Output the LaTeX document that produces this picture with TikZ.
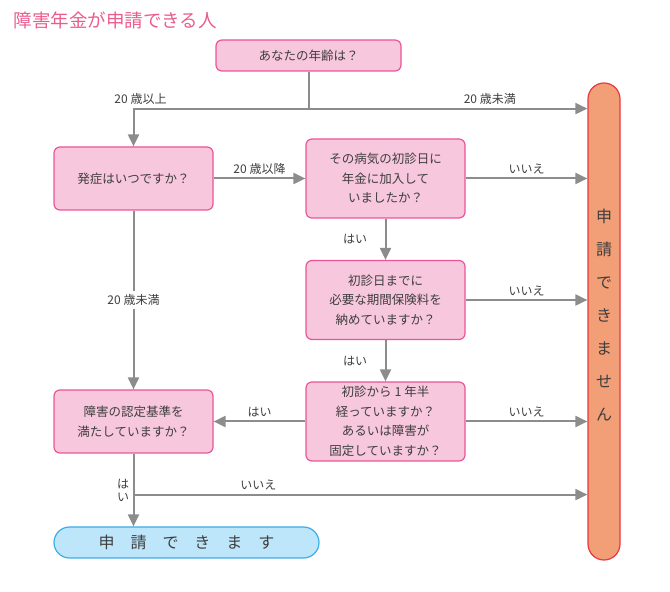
\documentclass[tikz,border=0pt]{standalone}
\usepackage{fontspec}
\setmainfont{Noto Sans CJK JP}
\usepackage{xcolor}
\usetikzlibrary{shapes.geometric, arrows.meta}

\definecolor{boxpink}{RGB}{247,199,221}
\definecolor{edgepink}{RGB}{236,84,152}
\definecolor{titlepink}{RGB}{234,92,142}
\definecolor{okfill}{RGB}{190,230,250}
\definecolor{okedge}{RGB}{62,172,230}
\definecolor{ngfill}{RGB}{242,158,118}
\definecolor{ngedge}{RGB}{232,56,64}
\definecolor{arrowgray}{RGB}{140,140,140}
\definecolor{textgray}{RGB}{62,62,62}

\begin{document}
\begin{tikzpicture}[x=1pt, y=1pt, node distance=121.5pt]

\tikzstyle{question} = [rectangle, rounded corners=6pt, minimum width=159pt, minimum height=63pt, align=center, draw=edgepink, fill=boxpink, line width=1.2pt, text=textgray, font=\fontsize{12.5}{19.5}\selectfont]
\tikzstyle{tall} = [minimum height=79pt]
\tikzstyle{yesend} = [rectangle, rounded corners=15.5pt, minimum width=265pt, minimum height=31pt, draw=okedge, fill=okfill, line width=1.2pt, text=textgray, font=\fontsize{16}{18}\selectfont]
\tikzstyle{noend} = [rectangle, rounded corners=16pt, minimum width=32pt, minimum height=477pt, draw=ngedge, fill=ngfill, line width=1.2pt]
\tikzstyle{vtext} = [align=center, text=textgray, font=\fontsize{16}{33}\selectfont]
\tikzstyle{arrow} = [line width=2pt, draw=arrowgray, -{Triangle[length=12pt, width=11pt]}]
\tikzstyle{line} = [line width=2pt, draw=arrowgray]
\tikzstyle{lbl} = [text=textgray, font=\fontsize{12}{13}\selectfont]

\useasboundingbox (0,0) rectangle (670,592);

% Title
\node (title) [anchor=west, text=titlepink, font=\fontsize{18.5}{20}\selectfont] at (10,572) {障害年金が申請できる人};

% Nodes
\node (age) [question, minimum width=185pt, minimum height=31pt] at (308.5,536.5) {あなたの年齢は？};
\node (onset) [question] at (133.5,413.5) {発症はいつですか？};
\node (insured) [question, tall] at (385.5,413.5) {その病気の初診日に\\年金に加入して\\いましたか？};
\node (premium) [question, tall, below of=insured] {初診日までに\\必要な期間保険料を\\納めていますか？};
\node (period) [question, tall, below of=premium] {初診から 1 年半\\経っていますか？\\あるいは障害が\\固定していますか？};
\node (criteria) [question] at (133.5,170.5) {障害の認定基準を\\満たしていますか？};
\node (ok) [yesend] at (186.5,49.5) {申　請　で　き　ま　す};
\node (ng) [noend] at (604,270.5) {};
\node (ngtext) [vtext] at ([yshift=6pt]ng.center) {申\\請\\で\\き\\ま\\せ\\ん};

% Arrows
\coordinate (split) at ([yshift=-37pt]age.south);
\coordinate (split2) at ([yshift=-41pt]criteria.south);
\draw [line] (age) -- (split);
\draw [arrow] (split) -| node[pos=0.48, above, lbl] {20 歳以上} (onset);
\draw [arrow] (split) -- node[pos=0.65, above, lbl] {20 歳未満} (split -| ng.west);
\draw [arrow] (onset) -- node[above, lbl] {20 歳以降} (insured);
\draw [arrow] (insured) -- node[above, lbl] {いいえ} (insured -| ng.west);
\draw [arrow] (insured) -- node[left=14pt, lbl] {はい} (premium);
\draw [arrow] (premium) -- node[above, lbl] {いいえ} (premium -| ng.west);
\draw [arrow] (premium) -- node[left=14pt, lbl] {はい} (period);
\draw [arrow] (period) -- node[above, lbl] {いいえ} (period -| ng.west);
\draw [arrow] (period) -- node[above, lbl] {はい} (criteria);
\draw [arrow] (onset) -- node[fill=white, lbl] {20 歳未満} (criteria);
\draw [arrow] (criteria) -- node[left, lbl, align=center, font=\fontsize{12}{13}\selectfont] {は\\い} (criteria |- ok.north);
\draw [arrow] (split2) -- node[pos=0.275, above, lbl] {いいえ} (split2 -| ng.west);

\end{tikzpicture}
\end{document}
